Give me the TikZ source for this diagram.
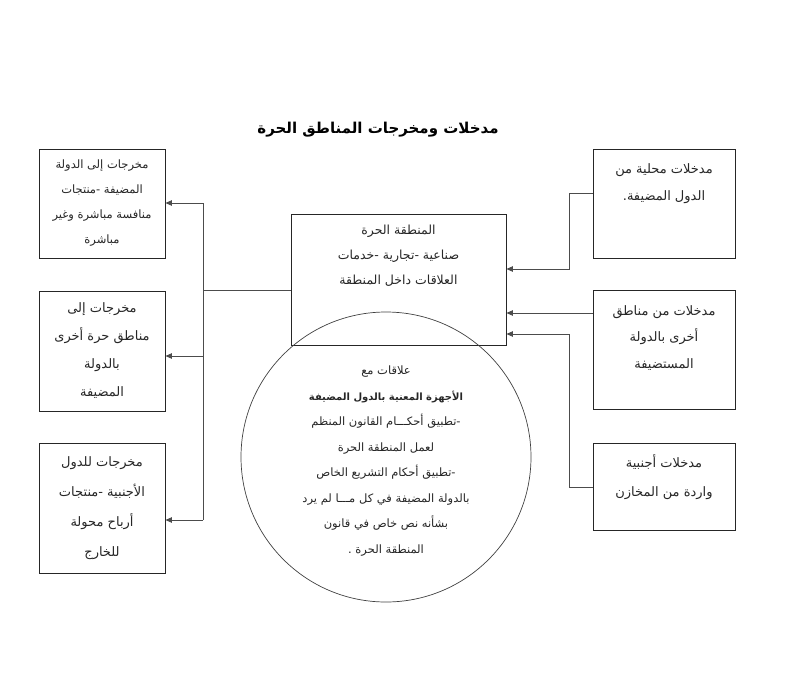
\documentclass[tikz,border=0pt]{standalone}
\usepackage{fontspec}
\usetikzlibrary{arrows.meta}
\newfontfamily\arabicfont[Script=Arabic]{DejaVu Sans}
\TeXXeTstate=1
\newcommand{\ar}[1]{{\arabicfont\beginR #1\endR}}
\begin{document}
\begin{tikzpicture}[x=1pt,y=-1pt,
  box/.style={draw=black!85,line width=0.9pt,rectangle,inner sep=0pt},
  txt/.style={align=center,text=black!85},
  conn/.style={draw=black!70,line width=0.8pt},
  arr/.style={conn,-{Triangle[length=6.5pt,width=5.5pt]}}]
\useasboundingbox (0,0) rectangle (796,681);
% title
\node[font=\fontsize{15}{18}\selectfont\bfseries] (title) at (378,130) {\ar{مدخلات ومخرجات المناطق الحرة}};
% left boxes
\node[box,minimum width=126pt,minimum height=109pt] (lb1) at (102,203.5) {};
\node[box,minimum width=126pt,minimum height=120pt] (lb2) at (102,351) {};
\node[box,minimum width=126pt,minimum height=130pt] (lb3) at (102,508) {};
\node[txt,font=\fontsize{11.5}{25}\selectfont] (lt1) at (lb1.center) {\ar{مخرجات إلى الدولة}\\\ar{المضيفة -منتجات}\\\ar{منافسة مباشرة وغير}\\\ar{مباشرة}};
\node[txt,font=\fontsize{13}{28}\selectfont] (lt2) at (lb2.center) {\ar{مخرجات إلى}\\\ar{مناطق حرة أخرى}\\\ar{بالدولة}\\\ar{المضيفة}};
\node[txt,font=\fontsize{13}{30}\selectfont] (lt3) at (lb3.center) {\ar{مخرجات للدول}\\\ar{الأجنبية -منتجات}\\\ar{أرباح محولة}\\\ar{للخارج}};
% central box and circle
\node[box,minimum width=215pt,minimum height=131pt] (cb) at (398.5,279.5) {};
\node[txt,font=\fontsize{12.5}{25}\selectfont] (ct) at (398.5,256) {\ar{المنطقة الحرة}\\\ar{صناعية -تجارية -خدمات}\\\ar{العلاقات داخل المنطقة}};
\node[draw=black!75,line width=0.7pt,circle,minimum size=290pt,inner sep=0pt] (circ) at (386,457) {};
\node[txt,font=\fontsize{11.5}{25.5}\selectfont] (circt) at (386,461) {\ar{علاقات مع}\\{\fontsize{10}{25.5}\selectfont\bfseries\ar{الأجهزة المعنية بالدول المضيفة}}\\\ar{-تطبيق أحكـــام القانون المنظم}\\\ar{لعمل المنطقة الحرة}\\\ar{-تطبيق أحكام التشريع الخاص}\\\ar{بالدولة المضيفة في كل مـــا لم يرد}\\\ar{بشأنه نص خاص في قانون}\\\ar{المنطقة الحرة .}};
% right boxes
\node[box,minimum width=142pt,minimum height=109pt] (rb1) at (664,203.5) {};
\node[box,minimum width=142pt,minimum height=119pt] (rb2) at (664,349.5) {};
\node[box,minimum width=142pt,minimum height=87pt] (rb3) at (664,486.5) {};
\node[txt,font=\fontsize{13}{27}\selectfont] (rt1) at (664,183.5) {\ar{مدخلات محلية من}\\\ar{الدول المضيفة.}};
\node[txt,font=\fontsize{13}{26.5}\selectfont] (rt2) at (664,338) {\ar{مدخلات من مناطق}\\\ar{أخرى بالدولة}\\\ar{المستضيفة}};
\node[txt,font=\fontsize{13}{29}\selectfont] (rt3) at (664,477) {\ar{مدخلات أجنبية}\\\ar{واردة من المخازن}};
% left connectors
\coordinate (lj) at (203,290);
\coordinate (lt) at (203,203);
\coordinate (lm) at (203,356);
\coordinate (lbt) at (203,520);
\draw[conn] (cb.west |- lj) -- (lj);
\draw[conn] (lt) -- (lbt);
\draw[arr] (lt) -- (lt -| lb1.east);
\draw[arr] (lm) -- (lm -| lb2.east);
\draw[arr] (lbt) -- (lbt -| lb3.east);
% right connectors
\coordinate (r1a) at (569,193);
\coordinate (r1b) at (569,269);
\coordinate (r2) at (593,313);
\coordinate (r3a) at (569,487);
\coordinate (r3b) at (569,334);
\draw[arr] (r1a -| rb1.west) -- (r1a) -- (r1b) -- (r1b -| cb.east);
\draw[arr] (r2 -| rb2.west) -- (r2 -| cb.east);
\draw[arr] (r3a -| rb3.west) -- (r3a) -- (r3b) -- (r3b -| cb.east);
\end{tikzpicture}
\end{document}
